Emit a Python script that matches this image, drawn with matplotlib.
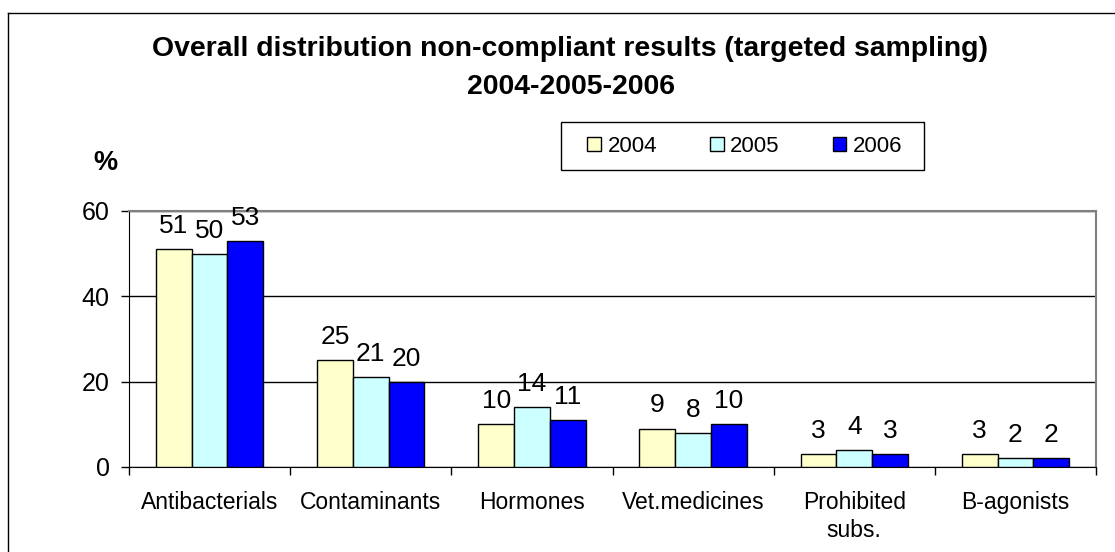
import matplotlib
matplotlib.use("Agg")
import matplotlib.pyplot as plt
import numpy as np
from matplotlib.lines import Line2D
from matplotlib.patches import Patch, Rectangle

plt.rcParams["font.family"] = ["Liberation Sans", "DejaVu Sans"]

categories = ["Antibacterials", "Contaminants", "Hormones", "Vet.medicines",
              "Prohibited\nsubs.", "B-agonists"]
years = ["2004", "2005", "2006"]
values_2004 = [51, 25, 10, 9, 3, 3]
values_2005 = [50, 21, 14, 8, 4, 2]
values_2006 = [53, 20, 11, 10, 3, 2]
colors = ["#FFFFCC", "#CCFFFF", "#0000FF"]
yticks = [0, 20, 40, 60]

W, H = 1115, 552
fig = plt.figure(figsize=(W / 100, H / 100), dpi=100)
ax = fig.add_axes([129 / W, 1 - 467 / H, (1096 - 129) / W, (467 - 211) / H])

x = np.arange(len(categories))
bw = 0.222
series = [values_2004, values_2005, values_2006]
for i, (vals, col, yr) in enumerate(zip(series, colors, years)):
    bars = ax.bar(x + (i - 1) * bw, vals, width=bw, color=col,
                  edgecolor="black", linewidth=1, label=yr, zorder=3)
    ax.bar_label(bars, padding=8, fontsize=19)

ax.set_xlim(-0.5, len(categories) - 0.5)
ax.set_ylim(0, 60)
ax.set_yticks(yticks)
ax.tick_params(axis="y", direction="out", length=6, width=1, pad=8, labelsize=18)
ax.set_xticks(x)
ax.set_xticklabels(categories, fontsize=16.5, linespacing=1.3)
ax.set_xticks(np.arange(-0.5, len(categories)), minor=True)
ax.tick_params(axis="x", which="major", length=0, pad=17)
ax.tick_params(axis="x", which="minor", direction="out", length=6, width=1)

ax.yaxis.grid(True, color="black", linewidth=1, zorder=0)
ax.set_axisbelow(True)
for side in ["left", "bottom"]:
    ax.spines[side].set_color("black")
for side in ["top", "right"]:
    ax.spines[side].set_color("#808080")
    ax.spines[side].set_linewidth(1.5)

# title
fig.text(570 / W, 1 - 49 / H, "Overall distribution non-compliant results (targeted sampling)",
         ha="center", va="center", fontsize=20.4, fontweight="bold")
fig.text(571 / W, 1 - 87 / H, "2004-2005-2006",
         ha="center", va="center", fontsize=20.4, fontweight="bold")
fig.text(105 / W, 1 - 163 / H, "%", ha="center", va="center",
         fontsize=19.5, fontweight="bold")

# legend
fig.patches.append(Rectangle((561 / W, 1 - 170 / H), (924 - 561) / W, 48 / H,
                             transform=fig.transFigure, facecolor="white",
                             edgecolor="black", linewidth=1))
handles = [Patch(facecolor=c, edgecolor="black", linewidth=1) for c in colors]
fig.legend(handles, years, loc="center", bbox_to_anchor=(745 / W, 1 - 146 / H),
           ncol=3, frameon=False, fontsize=16, handlelength=0.6, handleheight=0.6,
           handletextpad=0.3, columnspacing=2.4)

# outer frame (cut at right and bottom)
fig.add_artist(Line2D([7.5 / W, 7.5 / W], [0, 1 - 12.5 / H], color="black", linewidth=1))
fig.add_artist(Line2D([7.5 / W, 1], [1 - 12.5 / H, 1 - 12.5 / H], color="black", linewidth=1))

fig.savefig("out.png", dpi=100)
